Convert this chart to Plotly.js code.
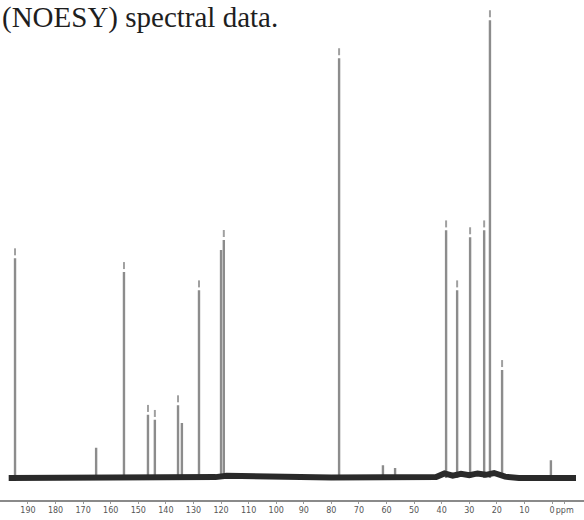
<!DOCTYPE html>
<html>
<head>
<meta charset="utf-8">
<script src="https://cdn.plot.ly/plotly-3.0.1.min.js"></script>
<style>html,body{margin:0;padding:0;background:#fff;}#chart{width:584px;height:520px;}</style>
</head>
<body>
<div id="chart"></div>
<script>
// 13C NMR peak positions (ppm) and relative intensities
const peakPpm    = [194.7, 165.3, 155.2, 146.5, 144.0, 135.6, 134.2, 128.0, 120.0, 119.0, 77.2, 61.3, 56.9, 38.4, 34.4, 29.7, 24.6, 22.5, 18.1, 0.4];
const peakHeight = [48.0, 6.6, 45.0, 13.8, 12.7, 15.9, 12.0, 41.0, 49.8, 52.0, 91.7, 2.8, 2.2, 54.1, 41.0, 52.6, 54.1, 100, 23.6, 3.9];
// which peaks carry a small label mark above them
const labelled   = [true, false, true, true, true, true, false, true, false, true, true, false, false, true, true, true, true, true, true, false];
// baseline (noise band) level along the spectrum
const basePpm    = [197, 130, 126, 122, 118, 80, 42, 39, 36, 33, 30, 27, 24, 21, 17, 12, -8.7];
const baseLevel  = [0.0, 0.1, 0.4, 0.2, 0.5, 0.1, 0.2, 1.0, 0.5, 0.9, 0.6, 1.0, 0.7, 1.1, 0.3, 0.0, 0.0];
// axis ticks
const tickVals   = [190, 180, 170, 160, 150, 140, 130, 120, 110, 100, 90, 80, 70, 60, 50, 40, 30, 20, 10, 0, -4.6];
const tickLabels = ['190', '180', '170', '160', '150', '140', '130', '120', '110', '100', '90', '80', '70', '60', '50', '40', '30', '20', '10', '0', 'ppm'];
const headerText = '(NOESY) spectral data.';

// build stick peaks from the arrays
const sx = [], sy = [];
peakPpm.forEach((p, i) => { sx.push(p, p, p, null); sy.push(0, peakHeight[i], 0, null); });
const lx = [], ly = [];
peakPpm.forEach((p, i) => { if (labelled[i]) { lx.push(p); ly.push(peakHeight[i] + 1.4); } });

const traces = [
  {x: sx, y: sy, mode: 'lines', line: {color: '#8c8c8c', width: 2.4}, hoverinfo: 'skip', showlegend: false},
  {x: basePpm, y: baseLevel, mode: 'lines', line: {color: '#2a2a2a', width: 6}, hoverinfo: 'skip', showlegend: false},
  {x: lx, y: ly, mode: 'markers', marker: {symbol: 'line-ns', size: 5, line: {color: '#a0a0a0', width: 2}}, hoverinfo: 'skip', showlegend: false}
];

const layout = {
  width: 584, height: 520,
  margin: {l: 0, r: 0, t: 0, b: 20},
  paper_bgcolor: '#ffffff', plot_bgcolor: '#ffffff',
  showlegend: false,
  xaxis: {
    range: [200.15, -11.6], showgrid: false, zeroline: false,
    showline: true, linecolor: '#8a8a8a', linewidth: 1.6,
    ticks: 'outside', ticklen: 2, tickcolor: '#999', tickwidth: 1,
    tickvals: tickVals, ticktext: tickLabels, tickangle: 0,
    tickfont: {family: 'DejaVu Sans', size: 8, color: '#555'}
  },
  yaxis: {range: [-4.8, 104.4], visible: false, showgrid: false, zeroline: false},
  annotations: [{
    text: headerText, xref: 'paper', yref: 'paper', x: 0, y: 1,
    xanchor: 'left', yanchor: 'top', xshift: 0, yshift: 1, showarrow: false,
    font: {family: 'Liberation Serif', size: 29, color: '#1e1e1e'}
  }]
};

Plotly.newPlot('chart', traces, layout, {staticPlot: true, displayModeBar: false});
</script>
</body>
</html>
